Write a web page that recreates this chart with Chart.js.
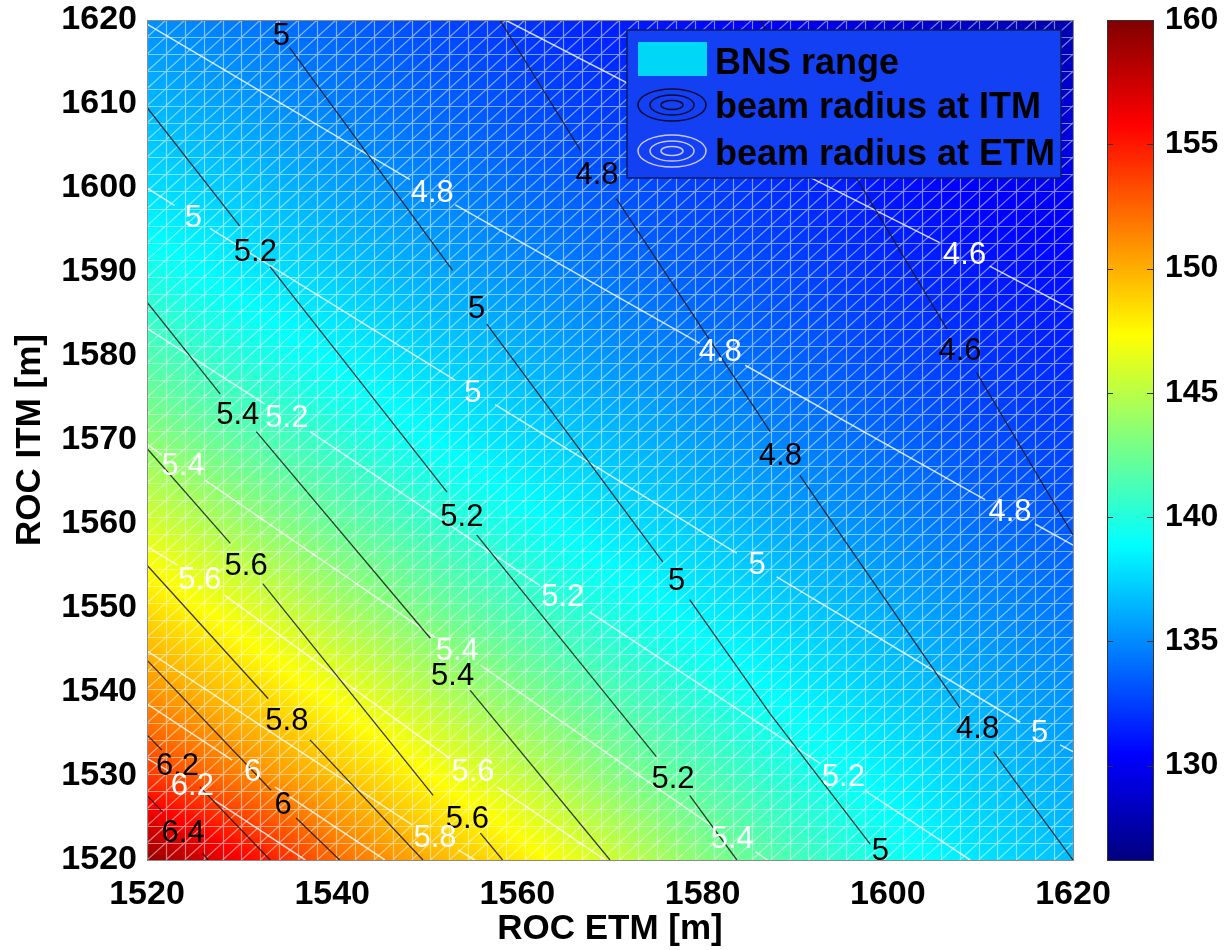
<!DOCTYPE html>
<html>
<head>
<meta charset="utf-8">
<title>BNS range vs ROC</title>
<script src="https://cdn.jsdelivr.net/npm/chart.js@4.4.1/dist/chart.umd.min.js"></script>
<style>
  html, body { margin: 0; padding: 0; background: #fff; }
  #wrap { width: 1224px; height: 950px; }
</style>
</head>
<body>
<div id="wrap"><canvas id="roc" width="1224" height="950"></canvas></div>
<script>
// grid of the map (m)
const rocEtm = [1520, 1530, 1540, 1550, 1560, 1570, 1580, 1590, 1600, 1610, 1620];
const rocItm = [1520, 1530, 1540, 1550, 1560, 1570, 1580, 1590, 1600, 1610, 1620];

// BNS range, one row per ROC ITM (bottom to top), one column per ROC ETM
const bnsRange = [
  [159.4, 156.0, 152.4, 150.1, 148.1, 145.7, 143.3, 141.2, 139.5, 138.0, 136.7],
  [154.0, 151.6, 149.5, 147.5, 145.4, 143.3, 141.5, 139.9, 138.5, 137.1, 136.0],
  [151.0, 149.0, 147.0, 145.0, 143.1, 141.4, 139.9, 138.5, 137.2, 136.1, 135.2],
  [148.5, 146.5, 144.5, 142.7, 141.1, 139.7, 138.3, 137.2, 136.1, 135.1, 134.3],
  [146.0, 144.0, 142.3, 140.8, 139.4, 138.0, 137.0, 135.8, 134.9, 134.0, 133.3],
  [143.5, 141.9, 140.4, 139.0, 137.7, 136.7, 135.6, 134.6, 133.8, 133.0, 132.5],
  [141.5, 140.1, 138.7, 137.5, 136.4, 135.3, 134.4, 133.6, 132.8, 132.1, 131.6],
  [139.7, 138.3, 137.2, 136.1, 135.1, 134.2, 133.4, 132.7, 131.9, 131.2, 130.8],
  [137.8, 137.0, 135.8, 134.9, 134.0, 133.2, 132.5, 131.8, 131.0, 130.3, 129.9],
  [136.5, 135.6, 134.6, 133.8, 133.0, 132.3, 131.6, 130.9, 130.1, 129.4, 128.9],
  [135.2, 134.4, 133.6, 132.8, 132.1, 131.4, 130.7, 130.0, 129.2, 128.5, 127.8]
];
const cbMin = 126.2, cbMax = 160;
const cbTicks = [130, 135, 140, 145, 150, 155, 160];
const xTicks = [1520, 1540, 1560, 1580, 1600, 1620];
const yTicks = [1520, 1530, 1540, 1550, 1560, 1570, 1580, 1590, 1600, 1610, 1620];

// beam radius at ITM (black contours), [ROC ETM, ROC ITM], null = gap under a label
const itm46 = [[1586.2, 1620], [1596.6, 1601.2], [1606.4, 1583.2], null, [1609.6, 1578.0], [1620, 1558.7]];
const itm48 = [[1558.1, 1620], [1566.8, 1604.5], null, [1570.7, 1598.7], [1587.3, 1571.0], null, [1590.5, 1565.8], [1607.8, 1538.1], null, [1611.4, 1532.9], [1620, 1520]];
const itm50 = [[1535.4, 1616.7], [1553.0, 1590.2], null, [1556.7, 1583.8], [1575.7, 1555.5], null, [1578.6, 1551.0], [1587.3, 1537.4], [1598.1, 1521.9]];
const itm52 = [[1520, 1609.6], [1530.0, 1595.5], null, [1533.3, 1590.6], [1552.4, 1563.8], null, [1555.6, 1558.7], [1575.0, 1532.3], null, [1578.6, 1527.7], [1583.7, 1520]];
const itm54 = [[1520, 1586.4], [1527.9, 1575.5], null, [1531.8, 1571.0], [1550.6, 1546.4], null, [1554.9, 1540.2], [1570.0, 1520]];
const itm56 = [[1520, 1569.0], [1529.0, 1557.7], null, [1532.5, 1552.9], [1550.9, 1527.7], null, [1556.0, 1523.2], [1558.4, 1520]];
const itm58 = [[1520, 1555.1], [1533.1, 1539.2], null, [1537.6, 1534.3], [1549.8, 1520]];
const itm60 = [[1520, 1543.8], [1533.4, 1528.3], null, [1536.1, 1525.0], [1540.8, 1520]];
const itm62 = [[1520, 1534.9], [1521.6, 1533.1], null, [1525.7, 1528.7], [1533.3, 1520]];
const itm64 = [[1520, 1527.7], [1521.7, 1525.7], null, [1526.0, 1520.8], [1526.6, 1520]];
const itmLabels = [
  ['4.6', 1607.8, 1580.6],
  ['4.8', 1568.6, 1601.5], ['4.8', 1588.4, 1568.0], ['4.8', 1609.7, 1535.5],
  ['5', 1534.5, 1618.0], ['5', 1555.6, 1585.5], ['5', 1577.2, 1553.2], ['5', 1599.2, 1521.0],
  ['5.2', 1531.7, 1592.3], ['5.2', 1554.0, 1560.8], ['5.2', 1576.8, 1529.6],
  ['5.4', 1529.8, 1572.9], ['5.4', 1553.0, 1541.9],
  ['5.6', 1530.7, 1555.0], ['5.6', 1554.6, 1524.8],
  ['5.8', 1535.1, 1536.5],
  ['6', 1534.7, 1526.5],
  ['6.2', 1523.3, 1531.1],
  ['6.4', 1523.9, 1523.2]
];

// beam radius at ETM (white contours)
const etm46 = [[1558.7, 1620], [1591.7, 1601.2], [1605.6, 1593.5], null, [1611.0, 1590.7], [1620, 1585.5]];
const etm48 = [[1520, 1619.5], [1548.4, 1601.0], null, [1553.3, 1598.0], [1579.7, 1581.5], null, [1584.6, 1578.9], [1610.5, 1562.9], null, [1615.9, 1560.0], [1620, 1557.5]];
const etm50 = [[1520, 1600.0], [1523.0, 1597.9], null, [1526.8, 1595.2], [1553.3, 1577.1], null, [1557.6, 1574.2], [1583.7, 1556.5], null, [1588.0, 1553.7], [1614.3, 1536.4], null, [1618.6, 1533.7], [1620, 1532.9]];
const etm52 = [[1520, 1583.3], [1532.7, 1574.3], null, [1537.6, 1571.0], [1562.4, 1552.7], null, [1567.8, 1549.5], [1592.7, 1531.5], null, [1597.5, 1528.3], [1608.9, 1520]];
const etm54 = [[1520, 1569.5], [1521.6, 1568.2], null, [1526.3, 1565.2], [1551.1, 1546.5], null, [1556.0, 1543.2], [1580.8, 1524.2], null, [1585.7, 1521.0], [1587.0, 1520]];
const etm56 = [[1520, 1557.3], [1523.3, 1555.1], null, [1528.4, 1551.5], [1552.7, 1532.1], null, [1557.8, 1528.7], [1569.5, 1520]];
const etm58 = [[1520, 1544.9], [1548.6, 1524.2], null, [1553.6, 1521.2], [1555.4, 1520]];
const etm60 = [[1520, 1538.6], [1529.2, 1531.9], null, [1533.8, 1528.7], [1545.7, 1520]];
const etm62 = [[1520, 1532.1], [1522.5, 1530.5], null, [1527.3, 1527.1], [1537.1, 1520]];
const etmLabels = [
  ['4.6', 1608.3, 1592.0],
  ['4.8', 1550.8, 1599.4], ['4.8', 1581.9, 1580.4], ['4.8', 1613.2, 1561.4],
  ['5', 1525.0, 1596.4], ['5', 1555.2, 1575.5], ['5', 1585.9, 1555.1], ['5', 1616.4, 1535.1],
  ['5.2', 1535.1, 1572.6], ['5.2', 1564.9, 1551.2], ['5.2', 1595.2, 1529.8],
  ['5.4', 1523.9, 1566.8], ['5.4', 1553.5, 1544.8], ['5.4', 1583.2, 1522.4],
  ['5.6', 1525.7, 1553.3], ['5.6', 1555.2, 1530.4],
  ['5.8', 1551.1, 1522.6],
  ['6', 1531.4, 1530.4],
  ['6.2', 1524.9, 1528.7]
];

const legendItems = ['BNS range', 'beam radius at ITM', 'beam radius at ETM'];
const meshN = 49; // surface mesh intervals per axis

const FONT = '"Liberation Sans", Arial, Helvetica, sans-serif';

// MATLAB jet colormap
function jet(t) {
  const c = v => Math.round(255 * Math.min(1, Math.max(0, v)));
  return [c(Math.min(4 * t - 1.5, -4 * t + 4.5)), c(Math.min(4 * t - 0.5, -4 * t + 3.5)), c(Math.min(4 * t + 0.5, -4 * t + 2.5))];
}

function bnsAt(ex, ix) {
  const nx = rocEtm.length, ny = rocItm.length;
  const fx = Math.min(Math.max((ex - rocEtm[0]) / (rocEtm[1] - rocEtm[0]), 0), nx - 1);
  const fy = Math.min(Math.max((ix - rocItm[0]) / (rocItm[1] - rocItm[0]), 0), ny - 1);
  const i0 = Math.min(Math.floor(fx), nx - 2), j0 = Math.min(Math.floor(fy), ny - 2);
  const tx = fx - i0, ty = fy - j0;
  const r0 = bnsRange[j0], r1 = bnsRange[j0 + 1];
  return (r0[i0] * (1 - tx) + r0[i0 + 1] * tx) * (1 - ty) + (r1[i0] * (1 - tx) + r1[i0 + 1] * tx) * ty;
}

const toXY = path => path.map(p => p ? { x: p[0], y: p[1] } : { x: null, y: null });

function contourSet(path, color, width) {
  return {
    data: toXY(path),
    borderColor: color,
    borderWidth: width,
    pointRadius: 0,
    spanGaps: false,
    tension: 0
  };
}

const itmPaths = [itm46, itm48, itm50, itm52, itm54, itm56, itm58, itm60, itm62, itm64];
const etmPaths = [etm46, etm48, etm50, etm52, etm54, etm56, etm58, etm60, etm62];

// heat map + white surface mesh under the contours
const surfacePlugin = {
  id: 'surface',
  beforeDatasetsDraw(chart) {
    const { ctx, chartArea: a, scales: { x, y } } = chart;
    const w = Math.round(a.right - a.left), h = Math.round(a.bottom - a.top);
    const img = ctx.createImageData(w, h);
    for (let py = 0; py < h; py++) {
      const vy = y.getValueForPixel(a.top + py + 0.5);
      for (let px = 0; px < w; px++) {
        const vx = x.getValueForPixel(a.left + px + 0.5);
        const col = jet((bnsAt(vx, vy) - cbMin) / (cbMax - cbMin));
        const k = (py * w + px) * 4;
        img.data[k] = col[0]; img.data[k + 1] = col[1]; img.data[k + 2] = col[2]; img.data[k + 3] = 255;
      }
    }
    ctx.putImageData(img, Math.round(a.left), Math.round(a.top));

    ctx.save();
    ctx.beginPath();
    ctx.rect(a.left, a.top, a.right - a.left, a.bottom - a.top);
    ctx.clip();
    ctx.strokeStyle = 'rgba(255,255,255,0.5)';
    ctx.lineWidth = 1.2;
    const sx = (x.max - x.min) / meshN, sy = (y.max - y.min) / meshN;
    ctx.beginPath();
    for (let k = 0; k <= meshN; k++) {
      const px = Math.round(x.getPixelForValue(x.min + k * sx)) + 0.5;
      ctx.moveTo(px, a.top); ctx.lineTo(px, a.bottom);
      const py = Math.round(y.getPixelForValue(y.min + k * sy)) + 0.5;
      ctx.moveTo(a.left, py); ctx.lineTo(a.right, py);
    }
    for (let k = -meshN; k <= meshN; k++) {
      ctx.moveTo(x.getPixelForValue(x.min + k * sx), y.getPixelForValue(y.min));
      ctx.lineTo(x.getPixelForValue(x.min + (k + meshN) * sx), y.getPixelForValue(y.max));
    }
    ctx.stroke();
    ctx.restore();
  }
};

// contour labels, axes box, legend, colorbar
const overlayPlugin = {
  id: 'overlay',
  afterDatasetsDraw(chart) {
    const { ctx, chartArea: a, scales: { x, y } } = chart;
    ctx.save();
    ctx.font = '31px ' + FONT;
    ctx.textAlign = 'center';
    ctx.textBaseline = 'middle';
    ctx.fillStyle = '#000';
    itmLabels.forEach(l => ctx.fillText(l[0], x.getPixelForValue(l[1]), y.getPixelForValue(l[2])));
    ctx.fillStyle = '#fff';
    etmLabels.forEach(l => ctx.fillText(l[0], x.getPixelForValue(l[1]), y.getPixelForValue(l[2])));

    // axes box
    ctx.strokeStyle = '#8a8a8a';
    ctx.lineWidth = 1;
    ctx.strokeRect(Math.round(a.left) + 0.5, Math.round(a.top) + 0.5, Math.round(a.right - a.left), Math.round(a.bottom - a.top));

    // legend
    const lw = 434, lh = 148;
    const lx = a.right - 12 - lw, ly = a.top + 10;
    ctx.fillStyle = '#1240f2';
    ctx.fillRect(lx, ly, lw, lh);
    ctx.strokeStyle = '#0a1a60';
    ctx.lineWidth = 1.5;
    ctx.strokeRect(lx, ly, lw, lh);
    ctx.fillStyle = '#00d6f6';
    ctx.fillRect(lx + 11, ly + 12, 69, 34);
    const rings = (cx, cy, color) => {
      ctx.strokeStyle = color;
      ctx.lineWidth = 1.5;
      [[34, 16], [22, 10], [11, 4.5]].forEach(r => {
        ctx.beginPath();
        ctx.ellipse(cx, cy, r[0], r[1], 0, 0, Math.PI * 2);
        ctx.stroke();
      });
    };
    rings(lx + 45, ly + 75, '#0a0a30');
    rings(lx + 45, ly + 121, '#c9c6ff');
    ctx.font = 'bold 36px ' + FONT;
    ctx.textAlign = 'left';
    ctx.textBaseline = 'alphabetic';
    ctx.fillStyle = '#000';
    ctx.fillText(legendItems[0], lx + 88, ly + 44);
    ctx.fillText(legendItems[1], lx + 88, ly + 88);
    ctx.fillText(legendItems[2], lx + 88, ly + 135);

    // colorbar
    const cb = chart.scales.cb;
    const bx = Math.round(cb.left + 34), bw = 46;
    const top = Math.round(cb.getPixelForValue(cbMax)), bot = Math.round(cb.getPixelForValue(cbMin));
    for (let py = top; py < bot; py++) {
      const col = jet((cb.getValueForPixel(py + 0.5) - cbMin) / (cbMax - cbMin));
      ctx.fillStyle = 'rgb(' + col.join(',') + ')';
      ctx.fillRect(bx, py, bw, 1);
    }
    ctx.strokeStyle = '#333';
    ctx.lineWidth = 1;
    ctx.strokeRect(bx + 0.5, top + 0.5, bw, bot - top);
    ctx.beginPath();
    cbTicks.forEach(v => {
      const py = Math.round(cb.getPixelForValue(v)) + 0.5;
      ctx.moveTo(bx, py); ctx.lineTo(bx + 6, py);
      ctx.moveTo(bx + bw - 6, py); ctx.lineTo(bx + bw, py);
    });
    ctx.stroke();
    ctx.restore();
  }
};

const tickFont = { family: FONT, size: 34, weight: 'bold' };
const titleFont = { family: FONT, size: 35, weight: 'bold' };
const plain = v => String(v);

new Chart(document.getElementById('roc'), {
  type: 'line',
  data: {
    datasets: [
      ...itmPaths.map(p => contourSet(p, 'rgba(25,25,25,0.85)', 1.3)),
      ...etmPaths.map(p => contourSet(p, 'rgba(255,255,255,0.8)', 1.5))
    ]
  },
  options: {
    responsive: false,
    animation: false,
    events: [],
    layout: { padding: { top: 20, left: 0, right: 0, bottom: 0 } },
    plugins: {
      legend: { display: false },
      tooltip: { enabled: false }
    },
    scales: {
      x: {
        type: 'linear', position: 'bottom', min: 1520, max: 1620,
        afterBuildTicks: s => { s.ticks = xTicks.map(v => ({ value: v })); },
        ticks: { font: tickFont, color: '#000', padding: 14, maxRotation: 0, autoSkip: false, callback: plain },
        grid: { display: false, drawTicks: false },
        border: { display: false },
        title: { display: true, text: 'ROC ETM [m]', font: titleFont, color: '#000', padding: { top: 0, bottom: 0 } },
        afterFit: s => { s.height = 90; s.paddingLeft = 0; s.paddingRight = 0; }
      },
      y: {
        type: 'linear', position: 'left', min: 1520, max: 1620,
        afterBuildTicks: s => { s.ticks = yTicks.map(v => ({ value: v })); },
        ticks: { font: tickFont, color: '#000', padding: 10, autoSkip: false, callback: plain },
        grid: { display: false, drawTicks: false },
        border: { display: false },
        title: { display: true, text: 'ROC ITM [m]', font: titleFont, color: '#000', padding: { top: 9, bottom: 0 } },
        afterFit: s => { s.width = 147; s.paddingTop = 0; s.paddingBottom = 0; }
      },
      cb: {
        type: 'linear', axis: 'y', position: 'right', min: cbMin, max: cbMax,
        afterBuildTicks: s => { s.ticks = cbTicks.map(v => ({ value: v })); },
        ticks: { font: { family: FONT, size: 32, weight: 'bold' }, color: '#000', padding: 92, autoSkip: false, callback: plain },
        grid: { display: false, drawTicks: false },
        border: { display: false },
        afterFit: s => { s.width = 151; s.paddingTop = 0; s.paddingBottom = 0; }
      }
    }
  },
  plugins: [surfacePlugin, overlayPlugin]
});
</script>
</body>
</html>
